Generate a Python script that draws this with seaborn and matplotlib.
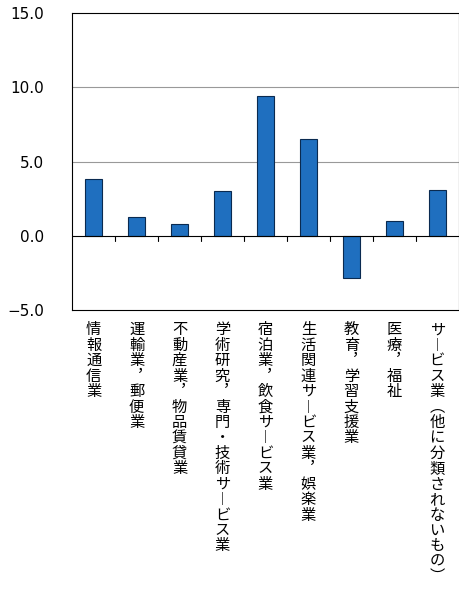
import matplotlib
matplotlib.use('Agg')
import matplotlib.pyplot as plt
import seaborn as sns
import pandas as pd

categories = ['情報通信業', '運輸業︐郵便業', '不動産業︐物品賃貸業', '学術研究︐専門・技術サ︱ビス業',
              '宿泊業︐飲食サ︱ビス業', '生活関連サ︱ビス業︐娯楽業', '教育︐学習支援業', '医療︐福祉',
              'サ︱ビス業︵他に分類されないもの︶']
values = [3.8, 1.3, 0.8, 3.0, 9.4, 6.5, -2.8, 1.0, 3.1]

sns.set_style('white')
plt.rcParams['font.family'] = ['Noto Sans CJK JP', 'DejaVu Sans']

df = pd.DataFrame({'cat': categories, 'val': values})
fig = plt.figure(figsize=(4.6, 5.92), dpi=100)
ax = fig.add_axes([0.157, 0.476, 0.84, 0.502])
sns.barplot(data=df, x='cat', y='val', color='#1f6fbf', edgecolor='#0a2a50',
            linewidth=0.8, width=0.4, saturation=1, ax=ax)
ax.set_ylim(-5, 15)
ax.set_yticks([-5, 0, 5, 10, 15])
ax.set_yticklabels(['−5.0', '0.0', '5.0', '10.0', '15.0'], fontsize=11, family='DejaVu Sans', color='black')
ax.tick_params(axis='y', length=0, pad=20)
for y in [5, 10]:
    ax.axhline(y, color='#999999', lw=0.8, zorder=0)
ax.axhline(0, color='black', lw=0.8)
for i in range(1, len(categories)):
    ax.plot([i - 0.5, i - 0.5], [0, -0.35], color='black', lw=0.8)
ax.set_xlim(-0.5, len(categories) - 0.5)
ax.set_xticks(range(len(categories)))
ax.set_xticklabels(['\n'.join(c) for c in categories], fontsize=11, va='top', linespacing=0.88, color='black')
ax.tick_params(axis='x', length=0, pad=8)
ax.set_xlabel('')
ax.set_ylabel('')
for s in ax.spines.values():
    s.set_color('black')
    s.set_linewidth(0.8)
fig.savefig('out.png', dpi=100)
